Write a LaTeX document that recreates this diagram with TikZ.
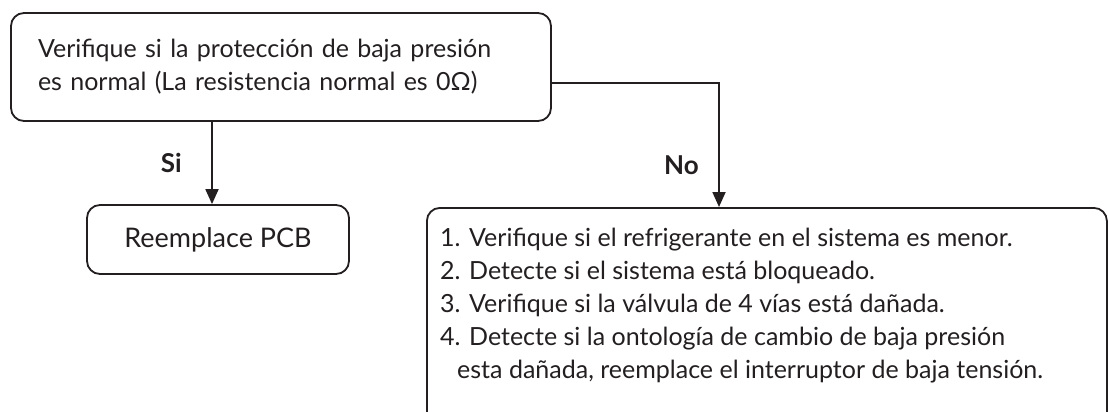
\documentclass[tikz,border=0pt]{standalone}
\usepackage{fontspec}
\setmainfont{Lato}[BoldFont=Lato Bold]
\usetikzlibrary{arrows.meta, positioning, calc}
\definecolor{inkcolor}{RGB}{35, 31, 32}

\begin{document}
\begin{tikzpicture}[
    x=1pt, y=-1pt,
    font=\fontsize{25}{33}\selectfont,
    text=inkcolor,
    block/.style={draw=inkcolor, line width=1.8pt, rounded corners=13pt, inner sep=0pt},
    arrow/.style={-{Triangle[width=13pt, length=15pt]}, line width=1.8pt, inkcolor},
    answer/.style={font=\fontsize{26}{30}\selectfont\bfseries, text=inkcolor}
    ]
    \useasboundingbox (0,0) rectangle (1108,412);
    \clip (0,0) rectangle (1108,412);

    % Question
    \node[block, minimum width=540pt, minimum height=108pt, text width=486pt, inner xsep=27pt, align=left] (check) at (281,67)
        {Verifique si la protección de baja presión\\es normal (La resistencia normal es 0Ω)};

    % Answers
    \node[block, minimum width=262pt, minimum height=69pt, font=\fontsize{27}{33}\selectfont] (fix) at (218,239.5) {Reemplace PCB};
    \node[block, anchor=north west, minimum width=680pt, minimum height=240pt] (steps) at (426,207) {};
    \node[anchor=north west, align=left, inner sep=0pt] (list) at ([xshift=14pt, yshift=-21pt]steps.north west)
        {1. Verifique si el refrigerante en el sistema es menor.\\
         2. Detecte si el sistema está bloqueado.\\
         3. Verifique si la válvula de 4 vías está dañada.\\
         4. Detecte si la ontología de cambio de baja presión\\
         \hspace*{17pt}esta dañada, reemplace el interruptor de baja tensión.};

    % Connectors
    \draw[arrow] ([xshift=-6pt]fix.north |- check.south) -- ([xshift=-6pt]fix.north)
        node[answer, midway, left=26pt] {Si};
    \draw[arrow] ([yshift=-16pt]check.east) -| ([xshift=293pt]steps.north west)
        node[answer, pos=0.83, left=16pt] {No};
\end{tikzpicture}
\end{document}
